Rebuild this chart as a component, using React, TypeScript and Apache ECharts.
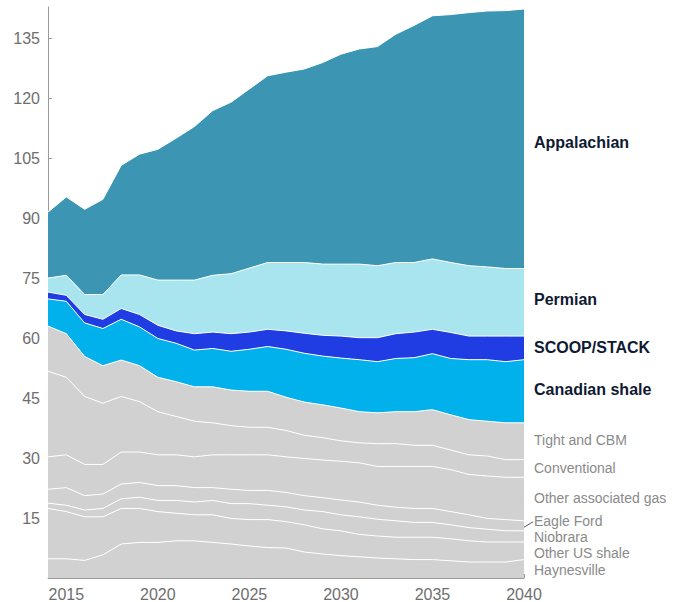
import { useEffect, useRef } from "react";
import * as echarts from "echarts";

// Gas production by play, 2014–2040 (stacked, bottom to top)
const years = [
  "2014", "2015", "2016", "2017", "2018", "2019", "2020", "2021", "2022",
  "2023", "2024", "2025", "2026", "2027", "2028", "2029", "2030", "2031",
  "2032", "2033", "2034", "2035", "2036", "2037", "2038", "2039", "2040",
];

const haynesville = [4.8, 4.8, 4.4, 5.8, 8.5, 8.9, 8.9, 9.3, 9.3, 8.9, 8.5, 8.0, 7.6, 7.5, 6.5, 6.0, 5.6, 5.3, 5.0, 4.8, 4.6, 4.6, 4.3, 4.0, 4.0, 4.0, 4.6];
const otherUsShale = [12.6, 11.8, 10.9, 9.5, 8.9, 8.5, 7.7, 6.9, 6.5, 6.9, 6.4, 6.6, 7.0, 6.6, 6.8, 6.3, 6.2, 5.6, 5.5, 5.4, 5.6, 5.6, 5.5, 5.3, 5.0, 5.0, 4.4];
const niobrara = [1.3, 1.6, 1.7, 2.1, 2.4, 2.8, 2.8, 3.2, 3.2, 3.6, 3.7, 4.0, 3.6, 3.7, 3.7, 4.3, 4.0, 4.4, 4.2, 4.1, 3.7, 3.7, 3.5, 3.3, 3.2, 2.8, 2.8];
const eagleFord = [3.5, 4.4, 3.6, 3.6, 3.7, 3.7, 3.7, 3.7, 3.6, 3.2, 3.6, 3.3, 3.7, 3.6, 3.6, 3.5, 3.7, 3.7, 3.5, 3.4, 3.5, 3.5, 3.3, 3.2, 2.7, 2.8, 2.5];
const otherAssociated = [8.1, 8.2, 7.8, 7.4, 8.0, 7.6, 7.7, 7.7, 7.7, 8.2, 8.6, 8.9, 8.9, 8.9, 9.3, 9.4, 9.7, 9.8, 9.7, 10.2, 10.5, 10.5, 10.5, 10.1, 10.6, 10.6, 10.9];
const conventional = [21.4, 19.4, 17.0, 15.3, 13.9, 12.6, 10.8, 9.6, 8.9, 8.0, 7.3, 6.9, 6.9, 6.6, 5.8, 5.6, 5.1, 5.0, 5.7, 5.7, 5.3, 5.3, 4.9, 4.9, 5.0, 4.4, 4.4];
const tightCbm = [11.3, 10.9, 10.0, 9.4, 9.1, 9.0, 8.6, 8.7, 8.6, 9.0, 8.9, 9.0, 9.0, 8.3, 8.3, 8.2, 8.2, 7.8, 7.7, 8.0, 8.4, 8.9, 8.8, 8.8, 8.7, 9.2, 9.2];
const canadianShale = [6.8, 8.1, 8.4, 9.3, 10.2, 9.7, 9.7, 9.6, 9.2, 9.6, 9.7, 10.5, 11.2, 12.0, 12.2, 12.2, 12.5, 13.0, 12.8, 13.3, 13.5, 14.0, 14.1, 15.0, 15.4, 15.3, 15.8];
const scoopStack = [1.7, 1.5, 2.1, 2.3, 2.7, 3.1, 3.3, 3.1, 4.1, 4.1, 4.4, 4.3, 4.3, 4.6, 5.0, 5.2, 5.5, 5.5, 6.0, 6.2, 6.4, 6.1, 6.5, 5.9, 5.9, 6.4, 5.9];
const permian = [3.5, 5.0, 5.0, 6.2, 8.4, 9.9, 11.3, 12.7, 13.4, 14.2, 15.0, 16.0, 16.7, 17.1, 17.7, 17.8, 18.0, 18.4, 18.0, 17.8, 17.4, 17.6, 17.5, 17.6, 17.3, 16.9, 16.9];
const appalachian = [16.5, 19.6, 21.3, 23.8, 27.4, 30.2, 32.7, 35.5, 38.4, 41.2, 42.9, 44.8, 46.7, 47.6, 48.4, 50.4, 52.5, 53.8, 54.8, 57.1, 59.3, 60.8, 62.0, 63.3, 64.0, 64.5, 64.9];

const GRAY = "#d1d1d1";
const GRAY_TEXT = "#8a8a8a";
const NAVY_TEXT = "#0f1a33";
const AXIS = "#9a9a9a";
const FONT = "'Liberation Sans', Arial, Helvetica, sans-serif";

type Play = {
  name: string;
  data: number[];
  color: string;
  strong: boolean;
  dy: number;
  leader?: boolean;
};

const plays: Play[] = [
  { name: "Haynesville", data: haynesville, color: GRAY, strong: false, dy: 1 },
  { name: "Other US shale", data: otherUsShale, color: GRAY, strong: false, dy: 2 },
  { name: "Niobrara", data: niobrara, color: GRAY, strong: false, dy: 1 },
  { name: "Eagle Ford", data: eagleFord, color: GRAY, strong: false, dy: -5, leader: true },
  { name: "Other associated gas", data: otherAssociated, color: GRAY, strong: false, dy: -1 },
  { name: "Conventional", data: conventional, color: GRAY, strong: false, dy: 0 },
  { name: "Tight and CBM", data: tightCbm, color: GRAY, strong: false, dy: -1 },
  { name: "Canadian shale", data: canadianShale, color: "#00b1eb", strong: true, dy: -2 },
  { name: "SCOOP/STACK", data: scoopStack, color: "#1f3de2", strong: true, dy: 0 },
  { name: "Permian", data: permian, color: "#a8e5ef", strong: true, dy: -3 },
  { name: "Appalachian", data: appalachian, color: "#3d95b4", strong: true, dy: 4 },
];

export default function App() {
  const ref = useRef<HTMLDivElement>(null);

  useEffect(() => {
    if (!ref.current) return;
    const chart = echarts.init(ref.current, null, { renderer: "svg" });

    chart.setOption({
      animation: false,
      grid: { left: 48, right: 158, top: 7, bottom: 23, containLabel: false },
      xAxis: {
        type: "category",
        data: years,
        boundaryGap: false,
        axisLine: { show: true, lineStyle: { color: AXIS, width: 1 } },
        axisTick: { show: true, inside: true, length: 4, interval: 0, lineStyle: { color: AXIS } },
        axisLabel: {
          interval: (_i: number, v: string) => Number(v) % 5 === 0,
          color: "#6e6e6e",
          fontFamily: FONT,
          fontSize: 16,
          margin: 8,
        },
        splitLine: { show: false },
      },
      yAxis: {
        type: "value",
        min: 0,
        max: 142.8,
        interval: 15,
        axisLine: { show: true, lineStyle: { color: AXIS, width: 1 } },
        axisTick: { show: true, inside: true, length: 4, lineStyle: { color: AXIS } },
        axisLabel: {
          showMinLabel: false,
          showMaxLabel: false,
          color: "#6e6e6e",
          fontFamily: FONT,
          fontSize: 16,
          margin: 8,
        },
        splitLine: { show: false },
      },
      series: plays.map((p, i) => ({
        name: p.name,
        type: "line",
        stack: "total",
        data: p.data,
        showSymbol: false,
        symbol: "none",
        z: 20 - i,
        lineStyle: { color: "#ffffff", width: 1 },
        areaStyle: { color: p.color, opacity: 1 },
        itemStyle: { color: p.color },
        emphasis: { disabled: true },
      })),
    });

    // Labels at the right end, vertically centred on each band in the last year
    const last = years.length - 1;
    let base = 0;
    const graphics: any[] = [];
    plays.forEach((p) => {
      const v = p.data[last];
      const mid = base + v / 2;
      base += v;
      const [px, py] = chart.convertToPixel({ xAxisIndex: 0, yAxisIndex: 0 }, [last, mid]) as number[];
      const ly = py + p.dy;
      graphics.push({
        type: "text",
        x: px + 10,
        y: ly,
        silent: true,
        style: {
          text: p.name,
          fill: p.strong ? NAVY_TEXT : GRAY_TEXT,
          font: `${p.strong ? "bold 16px" : "14px"} ${FONT}`,
          align: "left",
          verticalAlign: "middle",
          textAlign: "left",
          textVerticalAlign: "middle",
        },
      });
      if (p.leader) {
        graphics.push({
          type: "line",
          silent: true,
          shape: { x1: px - 1, y1: py + 2, x2: px + 9, y2: ly + 1 },
          style: { stroke: "#555555", lineWidth: 1 },
        });
      }
    });
    chart.setOption({ graphic: graphics });

    return () => chart.dispose();
  }, []);

  return (
    <div
      ref={ref}
      style={{ position: "fixed", left: 0, top: 0, width: 682, height: 602, background: "#ffffff" }}
    />
  );
}
